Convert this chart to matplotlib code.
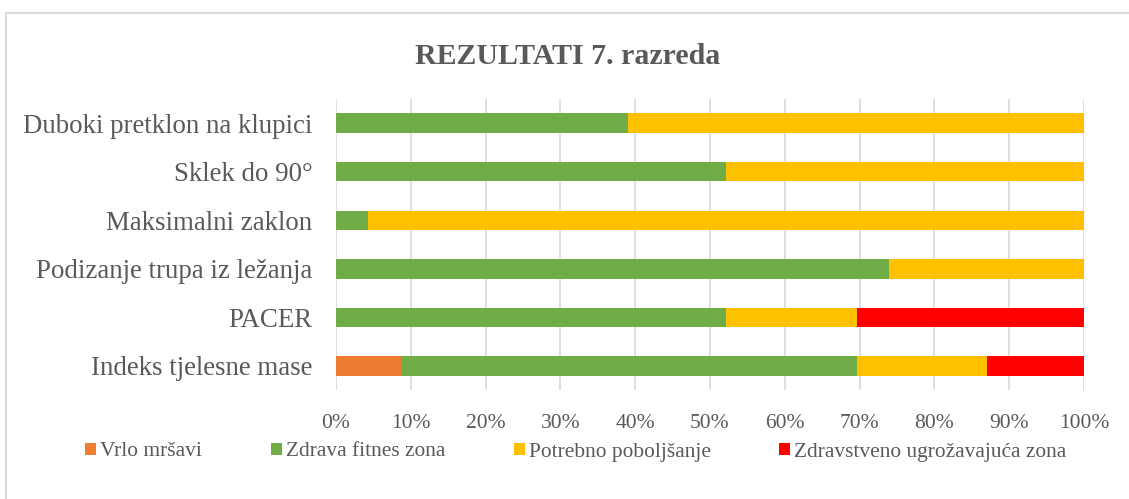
import matplotlib.pyplot as plt
from matplotlib.patches import Rectangle

plt.rcParams['font.family'] = ['Liberation Serif', 'DejaVu Serif']

categories = ['Duboki pretklon na klupici', 'Sklek do 90°', 'Maksimalni zaklon',
              'Podizanje trupa iz ležanja', 'PACER', 'Indeks tjelesne mase']
vrlo_mrsavi = [0, 0, 0, 0, 0, 8.7]
zdrava = [39.1, 52.2, 4.3, 73.9, 52.2, 60.9]
poboljsanje = [60.9, 47.8, 95.7, 26.1, 17.4, 17.4]
ugrozavajuca = [0, 0, 0, 0, 30.4, 13.0]

series = [
    ('Vrlo mršavi', vrlo_mrsavi, '#ED7D31'),
    ('Zdrava fitnes zona', zdrava, '#70AD47'),
    ('Potrebno poboljšanje', poboljsanje, '#FFC000'),
    ('Zdravstveno ugrožavajuća zona', ugrozavajuca, '#FF0000'),
]

grey = '#595959'

fig = plt.figure(figsize=(11.29, 4.99), dpi=100)
ax = fig.add_axes([0.2976, 0.218, 0.6625, 0.584])

y = list(range(len(categories)))
left = [0] * len(categories)
for name, vals, color in series:
    ax.barh(y, vals, left=left, height=0.4, color=color, label=name, zorder=2)
    left = [a + b for a, b in zip(left, vals)]

ax.set_xlim(0, 100)
ax.set_ylim(len(categories) - 0.5, -0.5)
ax.set_xticks(range(0, 101, 10))
ax.set_xticklabels([f'{v}%' for v in range(0, 101, 10)], fontsize=15.5, color=grey)
ax.set_yticks(y)
ax.set_yticklabels(categories, fontsize=19.4, color=grey)
ax.tick_params(axis='y', length=0, pad=17)
ax.tick_params(axis='x', length=0, pad=17)
ax.grid(axis='x', color='#D9D9D9', linewidth=1.2, zorder=0)
for s in ax.spines.values():
    s.set_visible(False)

fig.text(0.503, 1 - 56 / 499, 'REZULTATI 7. razreda', ha='center', va='center',
         fontsize=21.5, fontweight='bold', color=grey)

fig.legend(loc='center', bbox_to_anchor=(0.510, 1 - 452 / 499), ncol=4, frameon=False,
           fontsize=15.4, handlelength=0.52, handleheight=0.52, handletextpad=0.19,
           columnspacing=3.2, labelcolor=grey)

fig.patches.append(Rectangle((6 / 1129, -10 / 499), 1140 / 1129, 496 / 499,
                             transform=fig.transFigure, fill=False,
                             edgecolor='#D9D9D9', linewidth=1.5))

fig.savefig('out.png', dpi=100)
